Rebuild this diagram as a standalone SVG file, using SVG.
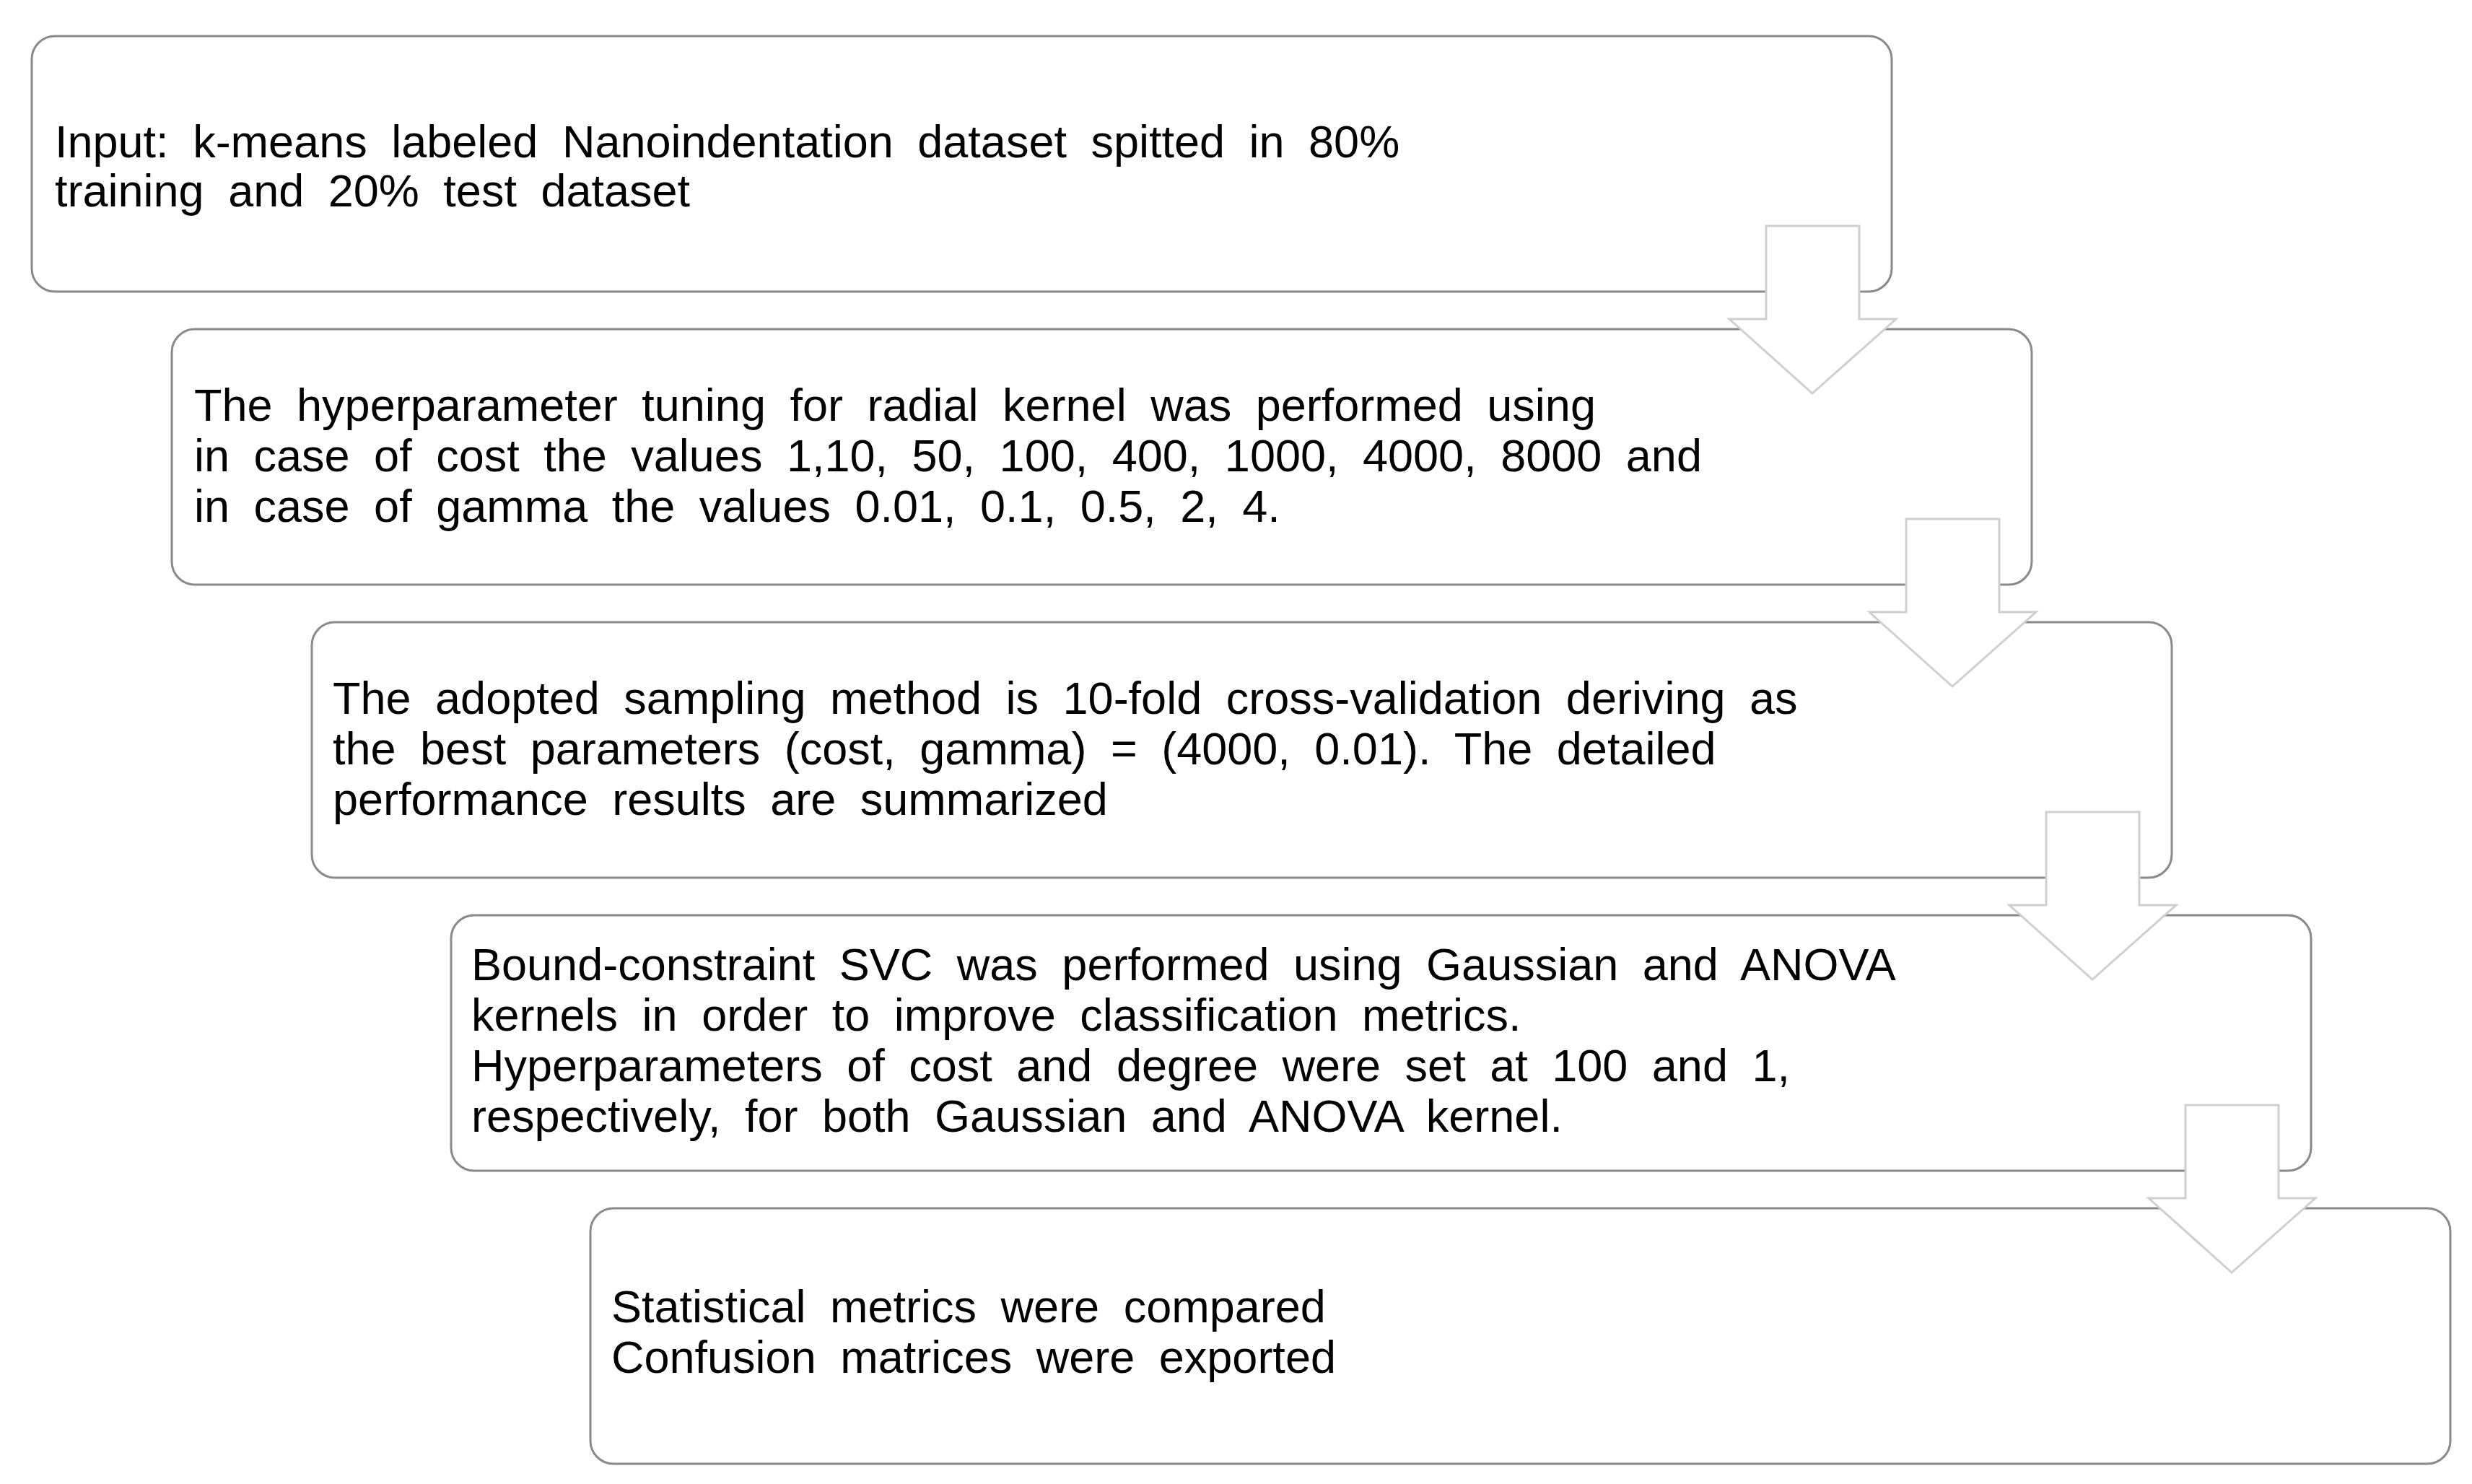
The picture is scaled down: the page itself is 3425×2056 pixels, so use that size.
<svg xmlns="http://www.w3.org/2000/svg" width="3425" height="2056" viewBox="0 0 3425 2056">
<style>
.box{fill:#fff;stroke:#8a8a8a;stroke-width:3}
.t{font-family:"Liberation Sans",Arial,sans-serif;font-size:63px;word-spacing:16px;fill:#000}
.arr{fill:#fff;stroke:#cfcfcf;stroke-width:3;stroke-linejoin:miter}
</style>
<rect width="3425" height="2056" fill="#fff"/>
<g id="n1"><rect class="box" x="44" y="50" width="2577" height="354" rx="32"/>
<text class="t" x="76"><tspan x="76" y="218">Input: k-means labeled Nanoindentation dataset spitted in 80%</tspan><tspan x="76" y="286">training and 20% test dataset</tspan></text></g>
<g id="n2"><rect class="box" x="238" y="456" width="2577" height="354" rx="32"/>
<text class="t"><tspan x="269" y="583">The hyperparameter tuning for radial kernel was performed using</tspan><tspan x="269" y="653">in case of cost the values 1,10, 50, 100, 400, 1000, 4000, 8000 and</tspan><tspan x="269" y="723">in case of gamma the values 0.01, 0.1, 0.5, 2, 4.</tspan></text></g>
<g id="n3"><rect class="box" x="432" y="862" width="2577" height="354" rx="32"/>
<text class="t"><tspan x="461" y="989">The adopted sampling method is 10-fold cross-validation deriving as</tspan><tspan x="461" y="1059">the best parameters (cost, gamma) = (4000, 0.01). The detailed</tspan><tspan x="461" y="1129">performance results are summarized</tspan></text></g>
<g id="n4"><rect class="box" x="625" y="1268" width="2577" height="354" rx="32"/>
<text class="t"><tspan x="653" y="1358">Bound-constraint SVC was performed using Gaussian and ANOVA</tspan><tspan x="653" y="1428">kernels in order to improve classification metrics.</tspan><tspan x="653" y="1498">Hyperparameters of cost and degree were set at 100 and 1,</tspan><tspan x="653" y="1568">respectively, for both Gaussian and ANOVA kernel.</tspan></text></g>
<g id="n5"><rect class="box" x="818" y="1674" width="2577" height="354" rx="32"/>
<text class="t"><tspan x="847" y="1832">Statistical metrics were compared</tspan><tspan x="847" y="1902">Confusion matrices were exported</tspan></text></g>
<g id="connectors">
<defs><path id="a" class="arr" d="M2447,313 H2576 V442 H2627 L2511,545 L2396,442 H2447 Z"/></defs>
<use href="#a"/>
<use href="#a" transform="translate(194,406)"/>
<use href="#a" transform="translate(388,812)"/>
<use href="#a" transform="translate(581,1218)"/>
</g>
</svg>
